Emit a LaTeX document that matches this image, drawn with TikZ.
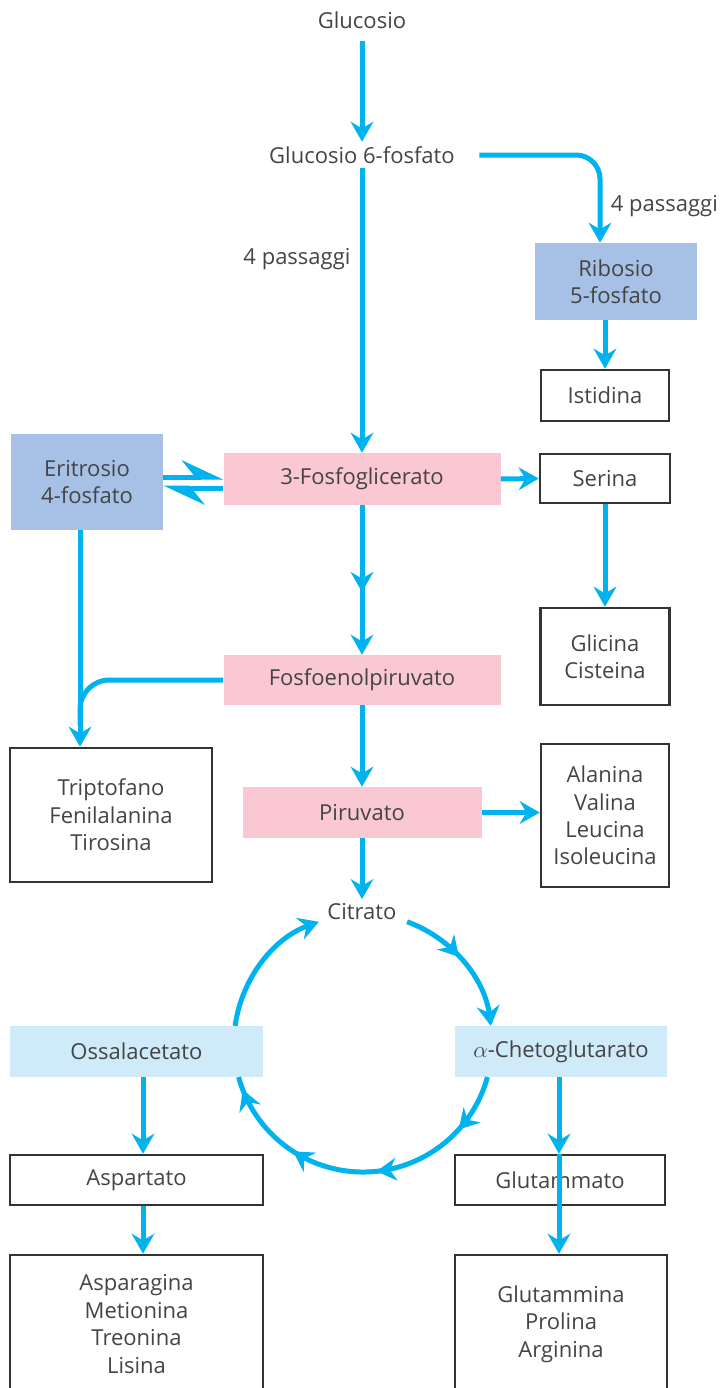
\documentclass[tikz,border=0pt]{standalone}
\usepackage{fontspec}
\setmainfont{Open Sans}
\usetikzlibrary{arrows.meta, decorations.markings, calc}

\definecolor{flowblue}{HTML}{00B3EF}
\definecolor{glyco}{HTML}{F9C8D2}
\definecolor{sugar}{HTML}{A7C1E6}
\definecolor{tca}{HTML}{CFEAF9}
\definecolor{ink}{HTML}{444444}

\begin{document}
\begin{tikzpicture}[x=0.75pt, y=-0.75pt,
    flowtip/.tip={Stealth[length=15pt, width=17pt, inset=5pt]},
    txt/.style={text=ink, font=\fontsize{16.5}{20.6}\selectfont, align=center},
    box/.style={txt, inner sep=0pt},
    aabox/.style={box, draw=black!80, line width=1.9pt},
    glybox/.style={box, fill=glyco},
    sugarbox/.style={box, fill=sugar},
    tcabox/.style={box, fill=tca},
    flowline/.style={draw=flowblue, line width=3.75pt},
    flow/.style={flowline, -flowtip},
    harp/.style={flowline, -{Stealth[harpoon, length=27pt, width=25pt, inset=10pt]}},
    midtip/.style={postaction={decorate}, decoration={markings,
        mark=at position #1 with {\arrow{flowtip}}}}
]
    \useasboundingbox (0,0) rectangle (725,1388);

    % --- glucose and the pentose branch ---
    \node[txt] (glucosio) at (362,20) {Glucosio};
    \node[txt] (g6p) at (362,155) {Glucosio 6-fosfato};
    \node[sugarbox, minimum width=121.5pt, minimum height=57.75pt] (ribosio) at (616,281.5) {Ribosio\\5-fosfato};
    \node[aabox, minimum width=96pt, minimum height=38.25pt] (istidina) at (605,395.5) {Istidina};

    % --- glycolysis ---
    \node[sugarbox, minimum width=114pt, minimum height=72pt] (eritrosio) at (87,482) {Eritrosio\\4-fosfato};
    \node[glybox, minimum width=207.75pt, minimum height=39pt] (fosfoglic) at (362,479) {3-Fosfoglicerato};
    \node[aabox, minimum width=97.5pt, minimum height=36.75pt] (serina) at (605,478.5) {Serina};
    \node[aabox, minimum width=96.75pt, minimum height=72.75pt] (glicina) at (605,656.5) {Glicina\\Cisteina};
    \node[glybox, minimum width=207.75pt, minimum height=37.5pt] (fosfoenol) at (362,680) {Fosfoenolpiruvato};
    \node[aabox, minimum width=151.5pt, minimum height=100.5pt] (triptofano) at (111,815) {Triptofano\\Fenilalanina\\Tirosina};
    \node[glybox, minimum width=179.25pt, minimum height=38.25pt] (piruvato) at (362,812.5) {Piruvato};
    \node[aabox, minimum width=96pt, minimum height=107.25pt] (alanina) at (605,815.5) {Alanina\\Valina\\Leucina\\Isoleucina};

    % --- citric acid cycle ---
    \node[txt] (citrato) at (362,912) {Citrato};
    \coordinate (krebs) at (363,1043);
    \node[tcabox, minimum width=189.75pt, minimum height=38.25pt] (ossalacetato) at (136.5,1051.5) {Ossalacetato};
    \node[tcabox, minimum width=159pt, minimum height=38.25pt] (chetoglu) at (561,1051.5) {$\alpha$-Chetoglutarato};
    \node[aabox, minimum width=189.75pt, minimum height=37.5pt] (aspartato) at (136.5,1180) {Aspartato};
    \node[aabox, minimum width=157.5pt, minimum height=37.5pt] (glutammato) at (560,1180) {Glutammato};
    \node[aabox, minimum width=189.75pt, minimum height=103.5pt] (asparagina) at (136.5,1324) {Asparagina\\Metionina\\Treonina\\Lisina};
    \node[aabox, minimum width=159pt, minimum height=103.5pt] (glutammina) at (561,1324) {Glutammina\\Prolina\\Arginina};

    % --- arrows, top part ---
    \draw[flow] ([yshift=-6pt]glucosio.south) -- (g6p.north);
    \draw[flow] (g6p.south) -- (fosfoglic.north)
        node[txt, pos=0.32, left=3.5pt] {4 passaggi};
    \draw[flow, rounded corners=18pt] ([xshift=15pt]g6p.east)
        -- ([xshift=-12pt]ribosio.north |- g6p.east)
        -- ([xshift=-12pt]ribosio.north) node[txt, pos=0.58, right=3pt] {4 passaggi};
    \draw[flow] (istidina.north |- ribosio.south) -- (istidina.north);

    % 3-Fosfoglicerato and its neighbours
    \draw[harp] ([yshift=3.75pt]eritrosio.east) -- ([yshift=1.5pt]fosfoglic.west);
    \draw[harp] ([yshift=-6.75pt]fosfoglic.west) -- ([yshift=-4.5pt]eritrosio.east);
    \draw[flow] (fosfoglic.east) -- (serina.west);
    \draw[flow] (serina.south) -- (glicina.north);
    \draw[flow, midtip=0.58] (fosfoglic.south) -- (fosfoenol.north);

    % aromatic branch
    \draw[flow] ([xshift=-5.25pt]eritrosio.south) -- ([xshift=-5.25pt]eritrosio.south |- triptofano.north);
    \draw[flowline, rounded corners=22pt] (fosfoenol.west)
        -- ([xshift=-5.25pt]eritrosio.south |- fosfoenol.west)
        -- ([xshift=-5.25pt,yshift=16pt]eritrosio.south |- triptofano.north);

    \draw[flow] (fosfoenol.south) -- (piruvato.north);
    \draw[flow] (piruvato.east) -- (piruvato.east -| alanina.west);
    \draw[flow] (piruvato.south) -- (citrato.north);

    % --- the cycle, clockwise ---
    \draw[flow, midtip=0.45] ($(krebs)+(70:96.75pt)$) arc[start angle=70, end angle=7.6, radius=96.75pt];
    \draw[flowline, postaction={decorate}, decoration={markings,
        mark=at position 0.18 with {\arrow{flowtip}},
        mark=at position 0.46 with {\arrow{flowtip}},
        mark=at position 0.72 with {\arrow{flowtip}},
        mark=at position 0.96 with {\arrow{flowtip}}}]
        ($(krebs)+(-15.3:96.75pt)$) arc[start angle=-15.3, end angle=-164.7, radius=96.75pt];
    \draw[flow] ($(krebs)+(172.4:96.75pt)$) arc[start angle=172.4, end angle=110, radius=96.75pt];

    % --- arrows, bottom part ---
    \draw[flow] ([xshift=4.9pt]ossalacetato.south) -- ([xshift=4.9pt]aspartato.north);
    \draw[flow] ([xshift=4.9pt]aspartato.south) -- ([xshift=4.9pt]asparagina.north);
    \draw[flow] ([xshift=-1.5pt]chetoglu.south) -- ([xshift=-1.5pt]chetoglu.south |- glutammato.north);
    \draw[flow] ([xshift=-1.5pt]chetoglu.south |- glutammato.north) -- ([xshift=-1.5pt]glutammina.north);
\end{tikzpicture}
\end{document}
